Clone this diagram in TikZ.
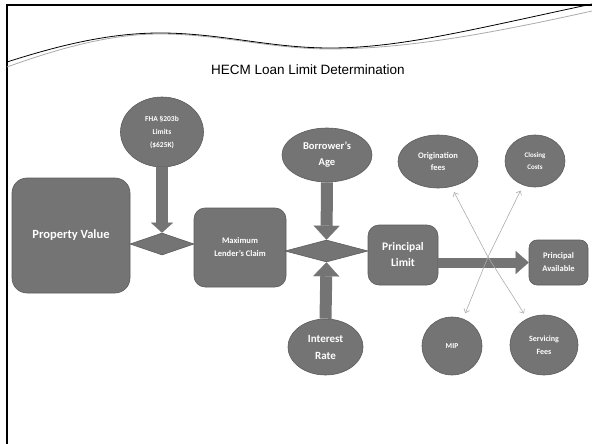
\documentclass[tikz,border=0pt]{standalone}
\usepackage{fontspec}
\setmainfont{Carlito}
\newfontfamily\titlefont{Liberation Sans}
\usetikzlibrary{shapes.geometric,arrows.meta}
\definecolor{boxgray}{RGB}{116,116,116}
\definecolor{edgegray}{RGB}{92,92,92}
\definecolor{wavegray}{RGB}{170,170,170}

\begin{document}
\begin{tikzpicture}[x=1pt,y=-1pt,
    blob/.style={fill=boxgray, draw=edgegray, line width=0.6pt, text=white,
        font=\bfseries, align=center, inner sep=0pt},
    roundbox/.style={blob, rectangle, rounded corners=11pt},
    oval/.style={blob, ellipse},
    joiner/.style={blob, diamond},
    fatarrow/.style={draw=boxgray, line width=12pt,
        -{Triangle[width=26pt,length=14pt,line width=0.1pt]}},
    thinarrow/.style={draw=gray!65, line width=0.6pt,
        -{Straight Barb[length=3.5pt,width=6pt]}, shorten >=6pt}]
    \useasboundingbox (0,0) rectangle (592,444);

    % Slide frame and wave
    \draw[line width=2pt] (7,444) -- (7,5) -- (592,5);
    \draw[wavegray, line width=0.8pt] (7,67) .. controls (60,48) and (110,34) .. (160,34)
        .. controls (220,34) and (270,49) .. (330,49)
        .. controls (400,49) and (480,36) .. (592,11);
    \draw[line width=0.8pt] (7,62) .. controls (60,45) and (110,33) .. (160,33)
        .. controls (220,33) and (270,48) .. (330,48)
        .. controls (400,48) and (470,30) .. (592,4);
    \node[font=\titlefont\fontsize{13.5}{15}\selectfont] (title) at (308,70) {HECM Loan Limit Determination};

    % Left part
    \node[roundbox, minimum width=118pt, minimum height=115pt, rounded corners=15pt,
        font=\bfseries\fontsize{12.5}{14}\selectfont] (pv) at (71,235.5) {Property Value};
    \node[joiner, minimum width=64pt, minimum height=22pt] (dA) at (162,244) {};
    \node[oval, minimum width=83pt, minimum height=70pt,
        font=\bfseries\fontsize{7.5}{13}\selectfont] (fha) at (162,132) {FHA §203b\\Limits\\(\$625K)};
    \node[roundbox, minimum width=92pt, minimum height=79pt,
        font=\bfseries\fontsize{8.5}{13}\selectfont] (mlc) at (240,247.5) {Maximum\\Lender’s Claim};
    \draw[fatarrow, -{Triangle[width=22pt,length=10pt,line width=0.1pt]}] (fha.south) -- (dA.north);

    % Middle part
    \node[joiner, minimum width=83pt, minimum height=22pt] (dB) at (326.5,251) {};
    \node[oval, minimum width=90pt, minimum height=54pt,
        font=\bfseries\fontsize{10.5}{16}\selectfont] (age) at (327,155) {Borrower’s\\Age};
    \node[oval, minimum width=75pt, minimum height=56pt,
        font=\bfseries\fontsize{11}{17}\selectfont] (rate) at (325.5,347) {Interest\\Rate};
    \draw[fatarrow] (age.south) -- (dB.north);
    \draw[fatarrow] (rate.north) -- (dB.south);

    % Right part
    \node[roundbox, minimum width=70pt, minimum height=60pt,
        font=\bfseries\fontsize{11.5}{16}\selectfont] (pl) at (403,255) {Principal\\Limit};
    \node[roundbox, minimum width=59pt, minimum height=45pt, rounded corners=8pt,
        font=\bfseries\fontsize{8.5}{13}\selectfont] (pa) at (558.5,262.5) {Principal\\Available};
    \draw[fatarrow, line width=10pt, -{Triangle[width=23pt,length=13pt,line width=0.1pt]}]
        (pl.east |- pa.west) -- (pa.west);

    % Costs taken out of the principal limit
    \node[oval, minimum width=80pt, minimum height=53pt,
        font=\bfseries\fontsize{8.5}{12}\selectfont] (orig) at (438,161.5) {Origination\\fees};
    \node[oval, minimum width=60pt, minimum height=52pt,
        font=\bfseries\fontsize{7}{12}\selectfont] (close) at (535,161) {Closing\\Costs};
    \node[oval, minimum width=60pt, minimum height=58pt,
        font=\bfseries\fontsize{7.5}{12}\selectfont] (mip) at (452,346) {MIP};
    \node[oval, minimum width=68pt, minimum height=60pt,
        font=\bfseries\fontsize{8}{13}\selectfont] (serv) at (544,345) {Servicing\\Fees};
    \coordinate (cross) at (488,257);
    \draw[thinarrow] (cross) -- (orig);
    \draw[thinarrow] (cross) -- (close);
    \draw[thinarrow] (cross) -- (mip);
    \draw[thinarrow] (cross) -- (serv);
\end{tikzpicture}
\end{document}
